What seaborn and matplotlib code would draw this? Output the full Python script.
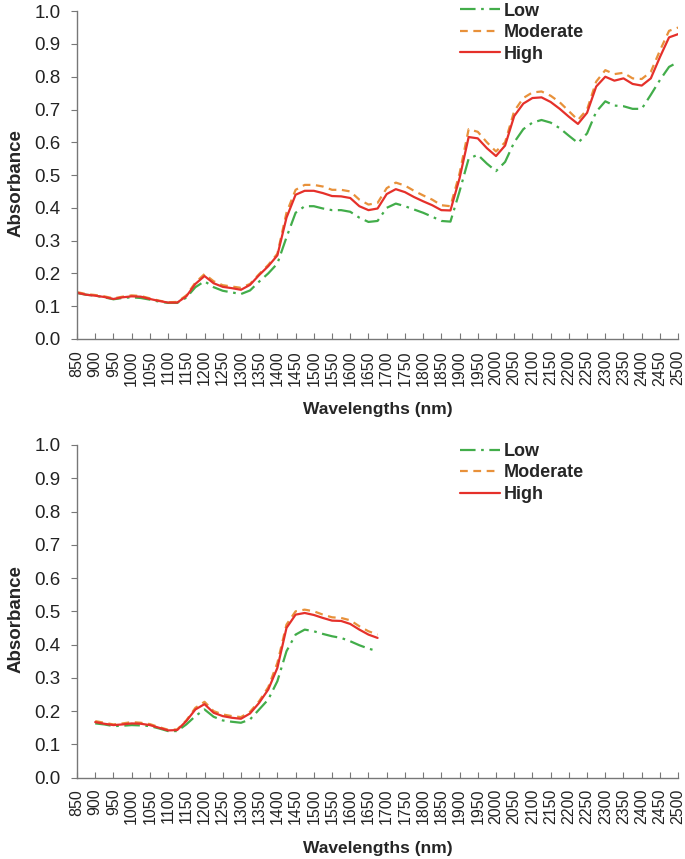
import pandas as pd
import matplotlib.pyplot as plt
import seaborn as sns

# top panel: full spectrum 850-2500 nm
wl_full = [850, 875, 900, 925, 950, 975, 1000, 1025, 1050, 1075, 1100, 1125,
           1150, 1175, 1200, 1225, 1250, 1275, 1300, 1325, 1350, 1375, 1400,
           1425, 1450, 1475, 1500, 1525, 1550, 1575, 1600, 1625, 1650, 1675,
           1700, 1725, 1750, 1775, 1800, 1825, 1850, 1875, 1900, 1925, 1950,
           1975, 2000, 2025, 2050, 2075, 2100, 2125, 2150, 2175, 2200, 2225,
           2250, 2275, 2300, 2325, 2350, 2375, 2400, 2425, 2450, 2475, 2500]
high_full = [.141, .135, .132, .128, .122, .127, .130, .129, .122, .116, .111, .111,
             .130, .168, .192, .170, .159, .155, .150, .165, .195, .222, .255,
             .370, .440, .452, .452, .445, .436, .435, .430, .405, .393, .398,
             .442, .457, .448, .433, .420, .408, .393, .392, .490, .616, .612,
             .582, .558, .590, .680, .718, .735, .737, .723, .702, .678, .656,
             .690, .770, .800, .788, .795, .778, .773, .795, .860, .920, .930]
moderate_full = [.143, .137, .134, .130, .124, .129, .133, .131, .124, .117, .112, .113,
                 .133, .172, .198, .176, .164, .160, .156, .168, .198, .226, .260,
                 .385, .455, .470, .470, .465, .455, .455, .450, .425, .410, .415,
                 .460, .477, .468, .452, .438, .425, .408, .405, .505, .640, .632,
                 .600, .572, .600, .695, .735, .752, .755, .742, .722, .695, .668,
                 .700, .785, .820, .808, .812, .795, .793, .815, .880, .940, .950]
low_full = [.140, .135, .132, .127, .121, .125, .127, .125, .120, .114, .110, .110,
            .126, .158, .176, .158, .147, .142, .137, .148, .175, .200, .230,
            .310, .385, .405, .405, .398, .393, .393, .388, .370, .357, .360,
            .400, .413, .405, .395, .385, .373, .360, .358, .450, .550, .562,
            .535, .512, .540, .600, .640, .660, .668, .660, .643, .620, .598,
            .627, .693, .725, .712, .710, .702, .702, .745, .790, .830, .845]

# bottom panel: 900-1675 nm
wl_short = [900, 925, 950, 975, 1000, 1025, 1050, 1075, 1100, 1125, 1150, 1175,
            1200, 1225, 1250, 1275, 1300, 1325, 1350, 1375, 1400, 1425, 1450,
            1475, 1500, 1525, 1550, 1575, 1600, 1625, 1650, 1675]
high_short = [.167, .162, .158, .160, .163, .162, .158, .150, .142, .143, .170, .205,
              .221, .195, .185, .180, .177, .193, .225, .265, .330, .450, .490,
              .495, .489, .480, .472, .471, .462, .445, .430, .420]
moderate_short = [.170, .165, .160, .163, .167, .165, .161, .152, .144, .145, .172, .210,
                  .228, .200, .190, .185, .182, .198, .230, .272, .345, .460, .500,
                  .505, .500, .490, .482, .480, .473, .455, .440, .430]
low_short = [.163, .160, .155, .156, .158, .157, .155, .148, .140, .140, .160, .185,
             .205, .183, .172, .168, .165, .175, .205, .235, .290, .380, .430,
             .445, .440, .432, .425, .420, .410, .398, .388, .380]

levels = ['Low', 'Moderate', 'High']
palette = {'Low': '#42ad4a', 'Moderate': '#e8913a', 'High': '#e5302a'}
dashes = {'Low': (7, 2.5, 1.2, 2.5), 'Moderate': (3.5, 2.5), 'High': ''}
x_ticks = list(range(850, 2501, 50))
y_ticks = [i / 10 for i in range(11)]


def make_frame(wl, low, moderate, high):
    parts = []
    for name, vals in zip(levels, [low, moderate, high]):
        parts.append(pd.DataFrame({'wavelength': wl, 'absorbance': vals, 'level': name}))
    return pd.concat(parts, ignore_index=True)


sns.set_style('ticks')
plt.rcParams['font.family'] = ['Liberation Sans', 'DejaVu Sans']

fig = plt.figure(figsize=(6.85, 8.59), dpi=100)
ax_top = fig.add_axes([0.1124, 0.6054, 0.8776, 0.3816])
ax_bot = fig.add_axes([0.1124, 0.0947, 0.8776, 0.3873])

panels = [(ax_top, make_frame(wl_full, low_full, moderate_full, high_full), 1.026),
          (ax_bot, make_frame(wl_short, low_short, moderate_short, high_short), 1.006)]

for ax, df, leg_y in panels:
    sns.lineplot(data=df, x='wavelength', y='absorbance', hue='level', style='level',
                 hue_order=levels, style_order=levels, palette=palette, dashes=dashes,
                 linewidth=1.6, ax=ax)
    ax.set_xlim(850, 2500)
    ax.set_ylim(0, 1.0)
    ax.set_xticks(x_ticks)
    ax.set_xticklabels([str(t) for t in x_ticks], rotation=90, fontsize=11.5, color='#222222')
    ax.set_yticks(y_ticks)
    ax.set_yticklabels([f'{t:.1f}' for t in y_ticks], fontsize=13.5, color='#222222')
    ax.tick_params(axis='x', direction='in', length=4, color='#777777', pad=8)
    ax.tick_params(axis='y', direction='out', length=4, color='#777777', pad=8)
    for side in ['top', 'right']:
        ax.spines[side].set_visible(False)
    for side in ['left', 'bottom']:
        ax.spines[side].set_color('#777777')
        ax.spines[side].set_linewidth(1.0)
    ax.set_xlabel('Wavelengths (nm)', fontsize=12.5, fontweight='bold', labelpad=12)
    ax.set_ylabel('Absorbance', fontsize=13.5, fontweight='bold')
    ax.yaxis.set_label_coords(-0.087, 0.476)
    ax.legend(loc='upper left', bbox_to_anchor=(0.637, leg_y), frameon=False,
              borderpad=0, borderaxespad=0, handlelength=2.2, handletextpad=0.2,
              labelspacing=0.25, prop={'size': 13, 'weight': 'bold'})

plt.savefig('out.png', dpi=100)
